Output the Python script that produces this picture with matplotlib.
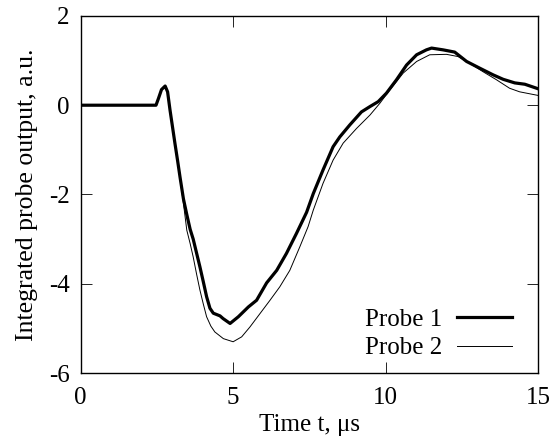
import numpy as np
import matplotlib
matplotlib.use("Agg")
import matplotlib.pyplot as plt

plt.rcParams['font.family'] = ['Liberation Serif', 'DejaVu Serif']
plt.rcParams['axes.unicode_minus'] = False

# Probe 1 (thick line)
t1 = [0.0, 2.47, 2.55, 2.65, 2.77, 2.85, 2.93, 3.01, 3.09, 3.18, 3.26, 3.37, 3.48, 3.59, 3.69, 3.80,
      3.91, 4.02, 4.13, 4.24, 4.35, 4.57, 4.67, 4.90, 5.17, 5.50, 5.77, 6.10, 6.43,
      6.75, 7.08, 7.41, 7.63, 7.95, 8.28, 8.50, 8.83, 9.21, 9.49, 9.76, 10.03, 10.36,
      10.69, 11.02, 11.34, 11.51, 11.89, 12.27, 12.66, 13.09, 13.53, 13.86, 14.24,
      14.57, 15.0]
v1 = [0.0, 0.0, 0.15, 0.35, 0.43, 0.30, -0.11, -0.48, -0.85, -1.25, -1.62, -2.10, -2.45, -2.78, -3.00, -3.31,
      -3.62, -3.95, -4.29, -4.55, -4.66, -4.72, -4.78, -4.89, -4.74, -4.52, -4.37, -3.98, -3.70,
      -3.32, -2.87, -2.40, -1.98, -1.45, -0.93, -0.71, -0.44, -0.15, -0.03, 0.08, 0.27, 0.57,
      0.90, 1.13, 1.24, 1.28, 1.24, 1.19, 0.98, 0.83, 0.68, 0.58, 0.50,
      0.47, 0.37]

# Probe 2 (thin line)
t2 = [0.0, 2.47, 2.55, 2.65, 2.77, 2.85, 2.93, 3.01, 3.09, 3.18, 3.26, 3.37, 3.48, 3.59, 3.69, 3.80,
      3.91, 4.02, 4.13, 4.27, 4.40, 4.68, 5.00, 5.28, 5.55, 5.88, 6.21, 6.53, 6.86, 7.19, 7.46,
      7.63, 7.95, 8.28, 8.61, 9.05, 9.49, 9.81, 10.14, 10.58, 11.02, 11.45, 12.00, 12.38,
      12.76, 13.20, 13.64, 14.07, 14.40, 15.0]
v2 = [0.0, 0.0, 0.15, 0.35, 0.43, 0.30, -0.11, -0.48, -0.85, -1.25, -1.65, -2.20, -2.80, -3.10, -3.40, -3.78,
      -4.14, -4.45, -4.74, -4.95, -5.08, -5.23, -5.30, -5.19, -4.97, -4.67, -4.37, -4.07, -3.70, -3.17, -2.72,
      -2.35, -1.75, -1.23, -0.85, -0.52, -0.22, 0.04, 0.34, 0.72, 0.98, 1.13, 1.14, 1.09,
      0.94, 0.75, 0.57, 0.38, 0.30, 0.22]

fig = plt.figure(figsize=(5.54, 4.43), dpi=100)
ax = fig.add_axes([0.1457, 0.158, 0.8253, 0.806])

ax.plot(t1, v1, color='black', lw=2.3, label='Probe 1')
ax.plot(t2, v2, color='black', lw=0.7, label='Probe 2')

ax.set_xlim(0, 15)
ax.set_ylim(-6, 2)
ax.set_xticks([0, 5, 10, 15])
ax.set_yticks([-6, -4, -2, 0, 2])
ax.tick_params(direction='in', length=8, width=0.6, top=True, right=True,
               labelsize=18)
ax.tick_params(axis='x', pad=10)
ax.tick_params(axis='y', pad=8)
for s in ax.spines.values():
    s.set_linewidth(1.0)

ax.set_xlabel('Time t, μs', fontsize=18, labelpad=4)
ax.set_ylabel('Integrated probe output, a.u.', fontsize=18.5, labelpad=8)

ax.legend(loc='lower right', frameon=False, fontsize=18, markerfirst=False,
          handlelength=2.2, handletextpad=0.6, labelspacing=0.25,
          bbox_to_anchor=(0.993, -0.025))

fig.savefig('out.png', dpi=100)
